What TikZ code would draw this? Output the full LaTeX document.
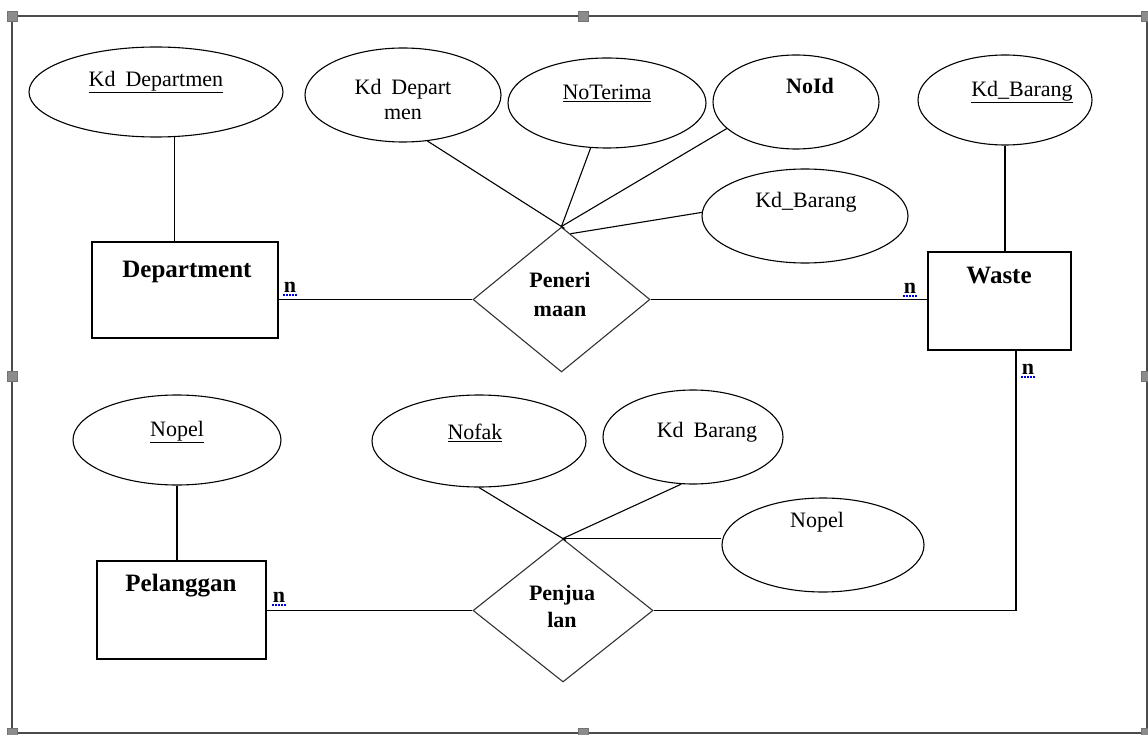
\documentclass[tikz,border=0pt]{standalone}
\usepackage{fontspec}
\setmainfont{Liberation Serif}
\usetikzlibrary{shapes.geometric,calc}

\tikzset{
  attr/.style={draw=black, line width=1.1pt, ellipse, inner sep=0pt},
  entity/.style={draw=black, line width=1.1pt, rectangle, inner sep=0pt},
  rel/.style={draw=black!80, line width=1.1pt, diamond, inner sep=0pt},
  lbl/.style={font=\fontsize{22}{25}\selectfont, inner sep=0pt, align=center},
  blbl/.style={font=\fontsize{22}{29}\selectfont\bfseries, inner sep=0pt, align=center},
  elbl/.style={font=\fontsize{25}{29}\selectfont\bfseries, inner sep=0pt, align=center},
  link/.style={draw=black, line width=1.1pt},
  card/.style={font=\fontsize{22}{22}\selectfont\bfseries, inner sep=0pt},
  spell/.style={draw=blue!90!black, line width=2.2pt, dash pattern=on 2pt off 1.2pt},
  frame/.style={draw=black!70, line width=1.6pt},
  handle/.style={fill=black!45, draw=black!55, line width=0.5pt, minimum size=10pt, inner sep=0pt, rectangle}
}

\begin{document}
\begin{tikzpicture}[x=1pt,y=-1pt]
\useasboundingbox (0,0) rectangle (1148,735);

% selection frame with its handles
\draw[frame] (12,16) rectangle (1147,733);
\foreach \hx/\hy [count=\i] in {12/16,583/16,1146/16,12/376,1146/376,12/733,583/733,1146/733}
  \node[handle] (h\i) at (\hx,\hy) {};

% entities
\node[entity, minimum width=186pt, minimum height=96pt] (dept) at (185,290) {};
\node[entity, minimum width=143pt, minimum height=98pt] (waste) at (999.5,301) {};
\node[entity, minimum width=169pt, minimum height=98pt] (pel) at (181.5,610) {};
\node[elbl] (tdept) at (187,272) {Department};
\node[elbl] (twaste) at (999,276) {Waste};
\node[elbl] (tpel) at (181,586) {Pelanggan};

% relationships
\node[rel, minimum width=177pt, minimum height=145pt] (pen) at (561.5,299.5) {};
\node[rel, minimum width=180pt, minimum height=143pt] (penj) at (563,610.5) {};
\node[blbl] (tpen) at (560,294.5) {Peneri\\maan};
\node[blbl, font=\fontsize{22}{27}\selectfont\bfseries] (tpenj) at (562,606.5) {Penjua\\lan};

% attributes
\node[attr, minimum width=254pt, minimum height=90pt] (kd1) at (156,92) {};
\node[attr, minimum width=196pt, minimum height=94pt] (kdd) at (403,95) {};
\node[attr, minimum width=198pt, minimum height=90pt] (noter) at (607,103) {};
\node[attr, minimum width=166pt, minimum height=94pt] (noid) at (796,102) {};
\node[attr, minimum width=206pt, minimum height=94pt] (kbm) at (805,216) {};
\node[attr, minimum width=174pt, minimum height=90pt] (kbr) at (1005,100) {};
\node[attr, minimum width=208pt, minimum height=90pt] (nop1) at (177,440) {};
\node[attr, minimum width=214pt, minimum height=92pt] (nofak) at (479,441) {};
\node[attr, minimum width=180pt, minimum height=94pt] (kbl) at (693,437) {};
\node[attr, minimum width=202pt, minimum height=94pt] (nop2) at (823,545) {};

\node[lbl] (tkd1) at (156,82) {\underline{Kd\hspace{0.45em}Departmen}};
\node[lbl] (tkdd) at (403,99.5) {Kd\hspace{0.45em}Depart\\men};
\node[lbl] (tnoter) at (607,93) {\underline{NoTerima}};
\node[lbl, font=\fontsize{22}{25}\selectfont\bfseries] (tnoid) at (810,86) {NoId};
\node[lbl] (tkbm) at (806,202) {Kd\_Barang};
\node[lbl] (tkbr) at (1022,92) {\underline{Kd\_Barang}};
\node[lbl] (tnop1) at (177,432) {\underline{Nopel}};
\node[lbl] (tnofak) at (475,433) {\underline{Nofak}};
\node[lbl] (tkbl) at (707,432) {Kd\hspace{0.45em}Barang};
\node[lbl] (tnop2) at (817,522) {Nopel};

% attribute links
\draw[link] (kd1.-68) -- (kd1.-68 |- dept.north);
\draw[link] (kbr.south) -- (kbr.south |- waste.north);
\draw[link] (nop1.south) -- (nop1.south |- pel.north);

\draw[link] ($(pen.north)+(3,2)$) -- (kdd.-62);
\draw[link] (pen.north) -- (noter.-110.7);
\draw[link] (pen.north) -- (noid.201);
\draw[link] ($(pen.north)!0.1!(pen.east)$) -- (kbm.178);

\draw[link] ($(penj.north)+(3,2)$) -- (nofak.south);
\draw[link] (penj.north) -- (kbl.-104);
\draw[link] (penj.north) -- (penj.north -| nop2.west);

% relationship links
\coordinate (wb) at (1016,0);
\draw[link] (dept.east |- pen.west) -- (pen.west);
\draw[link] (pen.east) -- (waste.west |- pen.east);
\draw[link] (pel.east |- penj.west) -- (penj.west);
\draw[link] (wb |- waste.south) -- (wb |- penj.east) -- (penj.east);

% cardinalities
\node[card] (c1) at (290,287) {n};
\node[card] (c2) at (910,288) {n};
\node[card] (c3) at (1028,369) {n};
\node[card] (c4) at (279,597) {n};
\foreach \c in {c1,c2,c3,c4}
  \draw[spell] ($(\c.south west)+(-1,3)$) -- ($(\c.south east)+(1,3)$);
\end{tikzpicture}
\end{document}
